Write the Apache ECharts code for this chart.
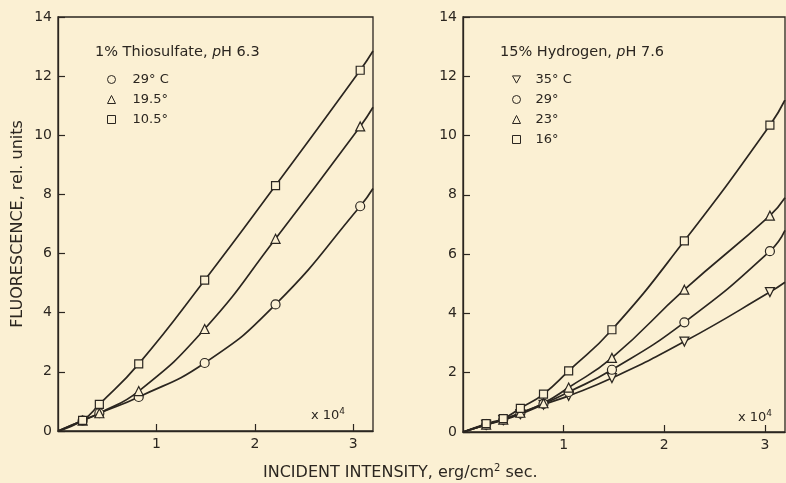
<!DOCTYPE html>
<html>
<head>
<meta charset="utf-8">
<script src="https://cdn.jsdelivr.net/npm/echarts@6/dist/echarts.min.js"></script>
<style>
  html, body { margin: 0; padding: 0; background: #fbf0d3; }
  #chart-container { width: 786px; height: 483px; }
</style>
</head>
<body>
<div id="chart-container"></div>
<script>
var dom = document.getElementById("chart-container");
var myChart = echarts.init(dom, null, { renderer: "canvas" });

var ink = "#2b2620";
var paper = "#fbf0d3";
var font = "DejaVu Sans";

// left panel: 1% thiosulfate, pH 6.3 (x in units of 10^4 erg/cm2 sec)
var thioX = [0.25, 0.42, 0.82, 1.49, 2.21, 3.07];
var thio29 = [0.35, 0.6, 1.15, 2.3, 4.28, 7.6];
var thio195 = [0.35, 0.6, 1.35, 3.45, 6.5, 10.3];
var thio105 = [0.36, 0.9, 2.27, 5.1, 8.3, 12.2];
// curve ends at right frame (x = 3.2)
var thioEnd = { t29: 8.2, t195: 10.95, t105: 12.85 };

// right panel: 15% hydrogen, pH 7.6
var hydX = [0.23, 0.4, 0.57, 0.8, 1.05, 1.48, 2.2, 3.05];
var hyd35 = [0.24, 0.4, 0.6, 0.92, 1.22, 1.82, 3.05, 4.72];
var hyd29 = [0.25, 0.42, 0.63, 0.95, 1.35, 2.1, 3.7, 6.1];
var hyd23 = [0.25, 0.42, 0.65, 0.97, 1.5, 2.5, 4.8, 7.3];
var hyd16 = [0.28, 0.45, 0.8, 1.28, 2.06, 3.45, 6.45, 10.35];
var hydEnd = { t35: 5.05, t29: 6.8, t23: 7.9, t16: 11.2 };

var xMax = 3.2;

function pts(xs, ys) {
  return xs.map(function (x, i) { return [x, ys[i]]; });
}
function curve(xs, ys, yEnd) {
  return [[0, 0]].concat(pts(xs, ys)).concat([[xMax, yEnd]]);
}

function lineSeries(idx, data) {
  return {
    type: "line",
    xAxisIndex: idx,
    yAxisIndex: idx,
    data: data,
    smooth: 0.5,
    symbol: "none",
    silent: true,
    lineStyle: { color: ink, width: 1.7 },
    z: 2,
  };
}
function markSeries(idx, name, symbol, data, size) {
  return {
    type: "scatter",
    name: name,
    xAxisIndex: idx,
    yAxisIndex: idx,
    data: data,
    symbol: symbol,
    symbolSize: size || 9,
    itemStyle: { color: paper, borderColor: ink, borderWidth: 1.2, opacity: 1 },
    z: 3,
  };
}

var triUp = "triangle";
var triDown = "path://M0,0 L10,0 L5,9 Z";
var square = "rect";
var circle = "circle";

function xAxisCfg(idx) {
  return {
    type: "value",
    gridIndex: idx,
    min: 0,
    max: xMax,
    interval: 1,
    axisLine: { show: true, onZero: false, lineStyle: { color: ink, width: 1.3 } },
    axisTick: { show: true, inside: true, length: 7, lineStyle: { color: ink, width: 1.2 } },
    axisLabel: {
      showMinLabel: false,
      showMaxLabel: false,
      color: ink,
      fontFamily: font,
      fontSize: 14,
      margin: 6,
    },
    splitLine: { show: false },
  };
}
function yAxisCfg(idx, name) {
  return {
    type: "value",
    gridIndex: idx,
    min: 0,
    max: 14,
    interval: 2,
    name: name,
    nameLocation: "middle",
    nameGap: 32,
    nameTextStyle: { color: ink, fontFamily: font, fontSize: 16 },
    axisLine: { show: true, onZero: false, lineStyle: { color: ink, width: 1.3 } },
    axisTick: { show: true, inside: true, length: 7, lineStyle: { color: ink, width: 1.2 } },
    axisLabel: { color: ink, fontFamily: font, fontSize: 14, margin: 6 },
    splitLine: { show: false },
  };
}

var titleRich = {
  i: { fontStyle: "italic", fontFamily: font, fontSize: 14, color: ink },
};
var supRich = {
  s: { fontSize: 9, verticalAlign: "top", color: ink, fontFamily: font, padding: [0, 0, 8, 0] },
};

function legendCfg(names, left, pad) {
  return {
    data: names,
    orient: "vertical",
    left: left,
    top: 68,
    itemWidth: 8,
    itemHeight: 8,
    itemGap: 7,
    itemStyle: { borderWidth: 1 },
    textStyle: { color: ink, fontFamily: font, fontSize: 13, padding: [0, 0, 0, pad] },
    selectedMode: false,
  };
}

var option = {
  backgroundColor: paper,
  animation: false,
  title: [
    {
      text: "1% Thiosulfate, {i|p}H 6.3",
      left: 90,
      top: 40,
      textStyle: { color: ink, fontFamily: font, fontSize: 14.5, fontWeight: "normal", rich: titleRich },
    },
    {
      text: "15% Hydrogen, {i|p}H 7.6",
      left: 495,
      top: 40,
      textStyle: { color: ink, fontFamily: font, fontSize: 14.5, fontWeight: "normal", rich: titleRich },
    },
    {
      text: "x 10{s|4}",
      left: 306,
      top: 402,
      textStyle: { color: ink, fontFamily: font, fontSize: 13, fontWeight: "normal", rich: supRich },
    },
    {
      text: "x 10{s|4}",
      left: 733,
      top: 404,
      textStyle: { color: ink, fontFamily: font, fontSize: 13, fontWeight: "normal", rich: supRich },
    },
    {
      text: "INCIDENT INTENSITY, erg/cm{s|2} sec.",
      left: 258,
      top: 458,
      textStyle: {
        color: ink, fontFamily: font, fontSize: 16, fontWeight: "normal",
        rich: { s: { fontSize: 10, color: ink, fontFamily: font, padding: [0, 0, 9, 0] } },
      },
    },
  ],
  legend: [
    legendCfg(["29° C", "19.5°", "10.5°"], 102, 12),
    legendCfg(["35° C", "29°", "23°", "16°"], 507, 10),
  ],
  grid: [
    { left: 58, top: 17, width: 315, bottom: 52, show: true, borderColor: ink, borderWidth: 1.3, backgroundColor: "transparent" },
    { left: 463, top: 17, right: 1, bottom: 51, show: true, borderColor: ink, borderWidth: 1.3, backgroundColor: "transparent" },
  ],
  xAxis: [xAxisCfg(0), xAxisCfg(1)],
  yAxis: [yAxisCfg(0, "FLUORESCENCE, rel. units"), yAxisCfg(1, "")],
  series: [
    lineSeries(0, curve(thioX, thio29, thioEnd.t29)),
    lineSeries(0, curve(thioX, thio195, thioEnd.t195)),
    lineSeries(0, curve(thioX, thio105, thioEnd.t105)),
    markSeries(0, "29° C", circle, pts(thioX, thio29)),
    markSeries(0, "19.5°", triUp, pts(thioX, thio195)),
    markSeries(0, "10.5°", square, pts(thioX, thio105), 8),

    lineSeries(1, curve(hydX, hyd35, hydEnd.t35)),
    lineSeries(1, curve(hydX, hyd29, hydEnd.t29)),
    lineSeries(1, curve(hydX, hyd23, hydEnd.t23)),
    lineSeries(1, curve(hydX, hyd16, hydEnd.t16)),
    markSeries(1, "35° C", triDown, pts(hydX, hyd35)),
    markSeries(1, "29°", circle, pts(hydX, hyd29)),
    markSeries(1, "23°", triUp, pts(hydX, hyd23)),
    markSeries(1, "16°", square, pts(hydX, hyd16), 8),
  ],
};

myChart.setOption(option);

window.addEventListener("resize", function () {
  myChart.resize();
});
</script>
</body>
</html>
